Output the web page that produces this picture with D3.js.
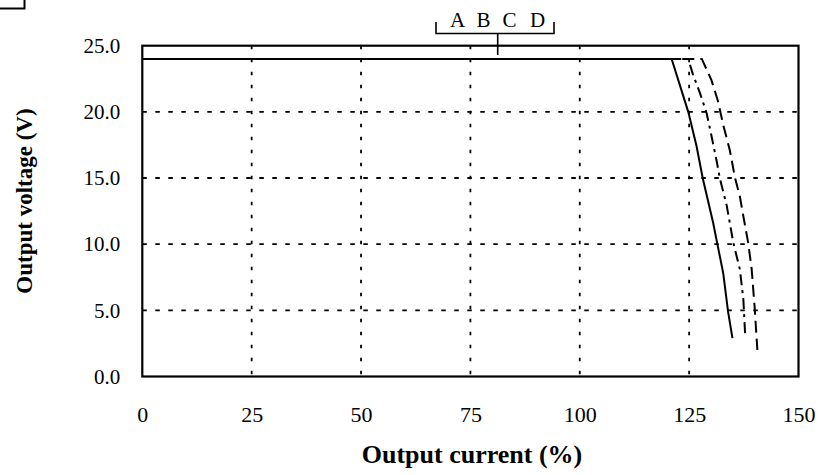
<!DOCTYPE html>
<html>
<head>
<meta charset="utf-8">
<script src="https://cdn.jsdelivr.net/npm/d3@7"></script>
<style>
  html, body { margin: 0; padding: 0; background: #fff; }
  svg { display: block; }
  text { font-family: "Liberation Serif", "Times New Roman", serif; fill: #000; }
</style>
</head>
<body>
<svg id="chart" width="821" height="475"></svg>
<script>
// ---- data ----
const xTicks = [0, 25, 50, 75, 100, 125, 150];
const yTicks = [0, 5, 10, 15, 20, 25];
const legendLetters = ["A", "B", "C", "D"];

// Curve 1 (solid)
const currentA = [0, 121.0, 124.8, 126.7, 128.1, 130.5, 131.4, 132.8, 133.9, 134.9];
const voltageA = [24, 24, 20.0, 17.4, 15.0, 11.6, 10.1, 7.8, 4.9, 2.9];
// Curve 2 (dash-dot)
const currentB = [0, 124.8, 125.9, 127.5, 129.0, 130.1, 131.4, 132.0, 133.6, 134.3, 135.1, 136.6, 137.4, 137.8];
const voltageB = [24, 24, 22.8, 21.4, 19.9, 18.2, 16.1, 15.0, 12.9, 11.6, 10.1, 8.1, 5.8, 3.2];
// Curve 3 (dashed)
const currentC = [0, 127.9, 129.0, 130.1, 131.6, 132.8, 134.3, 135.5, 136.6, 137.4, 138.5, 139.3, 140.0, 140.6];
const voltageC = [24, 24, 23.2, 22.4, 20.8, 19.0, 17.1, 15.0, 13.6, 12.1, 10.1, 8.1, 5.1, 2.0];

// ---- layout ----
const svg = d3.select("#chart");
const pLeft = 142.3, pRight = 798.5, pTop = 45.7, pBottom = 376.5;
const x = d3.scaleLinear().domain([0, 150]).range([pLeft, pRight]);
const y = d3.scaleLinear().domain([0, 25]).range([pBottom, pTop]);

// corner artifact top-left
svg.append("path").attr("d", "M0,8.5H24.5V0").attr("fill", "none")
  .attr("stroke", "#000").attr("stroke-width", 2);

// gridlines
svg.append("g").selectAll("line").data(xTicks.filter(d => d > 0 && d < 150)).join("line")
  .attr("x1", d => x(d)).attr("x2", d => x(d))
  .attr("y1", pTop).attr("y2", pBottom)
  .attr("stroke", "#000").attr("stroke-width", 1.8).attr("stroke-dasharray", "3.5,9.5");
svg.append("g").selectAll("line").data(yTicks.filter(d => d > 0 && d < 25)).join("line")
  .attr("x1", pLeft).attr("x2", pRight)
  .attr("y1", d => y(d)).attr("y2", d => y(d))
  .attr("stroke", "#000").attr("stroke-width", 1.8).attr("stroke-dasharray", "4.5,8.5");

// axes (labels only, lines drawn as frame)
const xAxis = svg.append("g").attr("transform", `translate(0,${pBottom})`)
  .call(d3.axisBottom(x).tickValues(xTicks).tickSize(0).tickPadding(30).tickFormat(d3.format("d")));
xAxis.select(".domain").remove();
xAxis.selectAll("text").style("font-size", "22px").style("font-family", "'Liberation Serif', serif");

const yAxis = svg.append("g").attr("transform", `translate(${pLeft},0)`)
  .call(d3.axisLeft(y).tickValues(yTicks).tickSize(0).tickPadding(22).tickFormat(d3.format(".1f")));
yAxis.select(".domain").remove();
yAxis.selectAll("text").style("font-size", "21px").style("font-family", "'Liberation Serif', serif");

// frame
svg.append("rect").attr("x", pLeft).attr("y", pTop)
  .attr("width", pRight - pLeft).attr("height", pBottom - pTop)
  .attr("fill", "none").attr("stroke", "#000").attr("stroke-width", 2.2);

// curves
const line = d3.line().x(d => x(d[0])).y(d => y(d[1]));
const series = [
  { c: currentA, v: voltageA, dash: null },
  { c: currentB, v: voltageB, dash: "11,5,3,5" },
  { c: currentC, v: voltageC, dash: "12,6" }
];
series.forEach(s => {
  svg.append("path")
    .attr("d", line(d3.zip(s.c, s.v)))
    .attr("fill", "none").attr("stroke", "#000").attr("stroke-width", 2)
    .attr("stroke-dasharray", s.dash);
});

// legend label with bracket
const legX = [457.5, 483.5, 509.5, 537.5];
svg.append("g").selectAll("text").data(legendLetters).join("text")
  .attr("x", (d, i) => legX[i]).attr("y", 27)
  .attr("text-anchor", "middle").style("font-size", "21px").text(d => d);
svg.append("path").attr("d", "M436,22V33.5H554V22M497.7,33.5V55")
  .attr("fill", "none").attr("stroke", "#000").attr("stroke-width", 1.6);

// axis titles
svg.append("text").attr("x", 472).attr("y", 463).attr("text-anchor", "middle")
  .style("font-size", "26px").style("font-weight", "bold").text("Output current (%)");
svg.append("text").attr("transform", "translate(32,201) rotate(-90)").attr("text-anchor", "middle")
  .style("font-size", "23px").style("font-weight", "bold").text("Output voltage (V)");
</script>
</body>
</html>
